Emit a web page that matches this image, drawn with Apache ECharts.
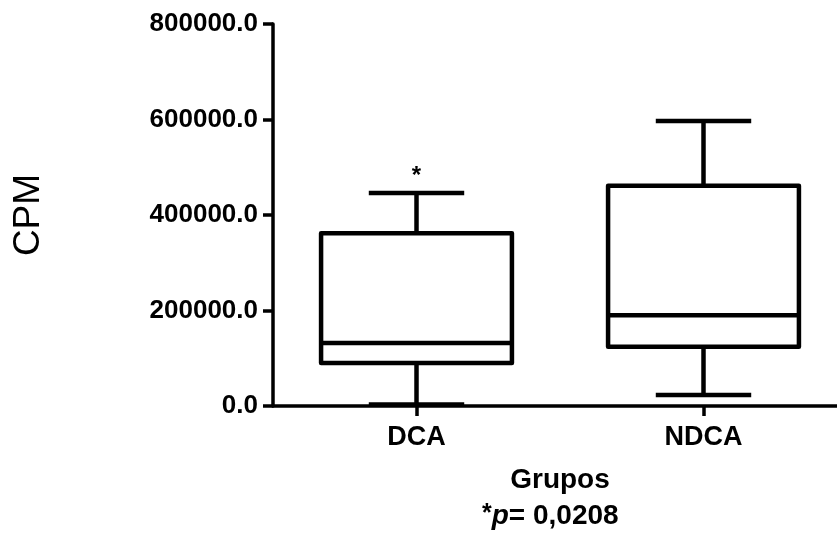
<!DOCTYPE html>
<html>
<head>
<meta charset="utf-8">
<script src="https://cdn.jsdelivr.net/npm/echarts@6/dist/echarts.min.js"></script>
<style>
html,body{margin:0;padding:0;background:#fff;}
#chart{width:837px;height:534px;}
</style>
</head>
<body>
<div id="chart"></div>
<script>
// ---- data ----
const categories = ['DCA', 'NDCA'];
// [min, Q1, median, Q3, max]
const boxMin    = [3000, 23000];
const boxQ1     = [90000, 124000];
const boxMedian = [132000, 190000];
const boxQ3     = [362000, 461000];
const boxMax    = [446000, 597000];
const sigMarks  = ['*', ''];
const yTicks    = [0, 200000, 400000, 600000, 800000];

const seriesData = categories.map((c, i) =>
  [i, boxMin[i], boxQ1[i], boxMedian[i], boxQ3[i], boxMax[i]]);

const FONT = '"Liberation Sans", Arial, sans-serif';

function renderItem(params, api) {
  const x = api.value(0);
  const pMin = api.coord([x, api.value(1)]);
  const pQ1 = api.coord([x, api.value(2)]);
  const pMed = api.coord([x, api.value(3)]);
  const pQ3 = api.coord([x, api.value(4)]);
  const pMax = api.coord([x, api.value(5)]);
  const band = api.size([1, 0])[0];
  const bw = band * 0.665;
  const cw = bw / 2;
  const cx = pMin[0];
  const lw = 4.5;
  const ls = { stroke: '#000', lineWidth: lw, fill: null };
  const children = [
    { type: 'rect', shape: { x: cx - bw / 2, y: pQ3[1], width: bw, height: pQ1[1] - pQ3[1] },
      style: { stroke: '#000', lineWidth: lw, fill: 'rgba(0,0,0,0)', lineJoin: 'round' } },
    { type: 'line', shape: { x1: cx - bw / 2, y1: pMed[1], x2: cx + bw / 2, y2: pMed[1] }, style: ls },
    { type: 'line', shape: { x1: cx, y1: pQ3[1], x2: cx, y2: pMax[1] }, style: ls },
    { type: 'line', shape: { x1: cx, y1: pQ1[1], x2: cx, y2: pMin[1] }, style: ls },
    { type: 'line', shape: { x1: cx - cw / 2, y1: pMax[1], x2: cx + cw / 2, y2: pMax[1] }, style: ls },
    { type: 'line', shape: { x1: cx - cw / 2, y1: pMin[1], x2: cx + cw / 2, y2: pMin[1] }, style: ls }
  ];
  const mark = sigMarks[params.dataIndex];
  if (mark) {
    children.push({ type: 'text', x: cx, y: pMax[1] - 5,
      style: { text: mark, fill: '#000', font: 'bold 24px ' + FONT, align: 'center', verticalAlign: 'bottom' } });
  }
  return { type: 'group', children };
}

const chart = echarts.init(document.getElementById('chart'));
chart.setOption({
  animation: false,
  backgroundColor: '#fff',
  grid: { left: 273, top: 24, height: 382, width: 574, containLabel: false, outerBoundsMode: 'none' },
  xAxis: {
    type: 'category',
    data: categories,
    boundaryGap: true,
    name: 'Grupos',
    nameLocation: 'middle',
    nameGap: 60,
    nameTextStyle: { fontFamily: FONT, fontWeight: 'bold', fontSize: 28, color: '#000' },
    axisLine: { lineStyle: { color: '#000', width: 3.5 } },
    axisTick: { show: true, alignWithLabel: true, length: 10, lineStyle: { color: '#000', width: 3.5 } },
    axisLabel: { fontFamily: FONT, fontWeight: 'bold', fontSize: 27, color: '#000', margin: 18 },
    splitLine: { show: false }
  },
  yAxis: {
    type: 'value',
    min: yTicks[0],
    max: yTicks[yTicks.length - 1],
    interval: yTicks[1] - yTicks[0],
    name: 'CPM',
    nameLocation: 'middle',
    nameRotate: 90,
    nameGap: 226,
    nameTextStyle: { fontFamily: FONT, fontSize: 37, color: '#000' },
    axisLine: { show: true, lineStyle: { color: '#000', width: 3.5 } },
    axisTick: { show: true, length: 10, lineStyle: { color: '#000', width: 3.5 } },
    axisLabel: { fontFamily: FONT, fontWeight: 'bold', fontSize: 26, color: '#000', margin: 15,
      formatter: v => v.toFixed(1) },
    splitLine: { show: false }
  },
  graphic: [{
    type: 'text',
    left: 482, top: 502,
    style: {
      text: '{a|*}{p|p}{b|= 0,0208}',
      rich: {
        a: { font: 'bold 25px ' + FONT, fill: '#000', verticalAlign: 'top' },
        p: { font: 'italic bold 28px ' + FONT, fill: '#000' },
        b: { font: 'bold 28px ' + FONT, fill: '#000' }
      }
    }
  }],
  series: [{
    type: 'custom',
    renderItem: renderItem,
    data: seriesData,
    encode: { x: 0, y: [1, 2, 3, 4, 5] },
    clip: false,
    z: 5
  }]
});
</script>
</body>
</html>
